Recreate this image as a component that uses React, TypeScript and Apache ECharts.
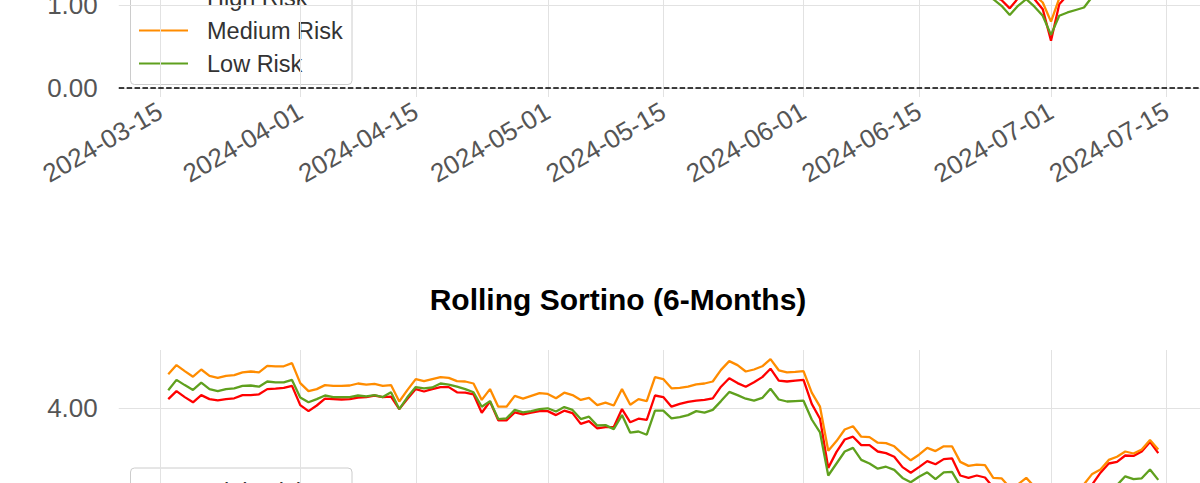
import React, { useEffect, useRef } from "react";
import * as echarts from "echarts";

// ---------- data ----------
const axisStart = "2024-03-10";
const axisEnd = "2024-07-20";

const seriesNames = ["High Risk", "Medium Risk", "Low Risk"];
const seriesColors = ["#ff0000", "#ff8c00", "#5fa01e"];

// Upper panel (only the part visible in the frame), daily from 2024-06-23
const upperStart = "2024-06-23";
const upperHigh = [1.15, 1.10, 1.06, 0.96, 1.08, 1.12, 1.07, 0.95, 0.57, 1.01, 1.12, 1.15, 1.18, 1.20];
const upperMedium = [1.20, 1.16, 1.12, 1.10, 1.15, 1.16, 1.12, 1.03, 0.80, 1.08, 1.15, 1.18, 1.20, 1.22];
const upperLow = [1.12, 1.07, 0.99, 0.88, 0.99, 1.07, 0.98, 0.87, 0.64, 0.87, 0.91, 0.94, 0.97, 1.10];

// Rolling Sortino (6-Months), daily from 2024-03-16
const sortinoStart = "2024-03-16";
const sortinoHigh = [
  4.23, 4.43, 4.28, 4.15, 4.33, 4.23, 4.20, 4.23, 4.25, 4.33, 4.33, 4.35, 4.48, 4.49, 4.51, 4.56, 4.08, 3.93, 4.07, 4.24,
  4.23, 4.22, 4.23, 4.27, 4.28, 4.32, 4.28, 4.29, 3.98, 4.24, 4.48, 4.42, 4.48, 4.53, 4.53,
  4.40, 4.39, 4.35, 3.89, 4.17, 3.70, 3.70, 3.90, 3.85, 3.89, 3.93, 3.93, 3.83, 3.94, 3.88, 3.61, 3.68, 3.50, 3.53, 3.53,
  3.98, 3.65, 3.74, 3.71, 4.32, 4.28, 4.04, 4.11, 4.16, 4.19, 4.21, 4.25, 4.54, 4.75, 4.63,
  4.54, 4.65, 4.78, 4.99, 4.69, 4.67, 4.69, 4.71, 4.11, 3.74, 2.51, 2.91, 3.22, 3.29, 3.08, 3.08, 2.92, 2.88, 2.79, 2.53,
  2.39, 2.53, 2.68, 2.60, 2.73, 2.75, 2.32, 2.26, 2.32, 2.27, 2.02, 1.97, 1.80, 1.84, 1.97, 1.80, 1.67, 1.59, 1.54, 1.63,
  1.72, 2.02, 2.10, 2.39, 2.62, 2.66, 2.82, 2.81, 2.92, 3.16, 2.88,
];
const sortinoMedium = [
  4.85, 5.08, 4.93, 4.79, 4.97, 4.81, 4.76, 4.81, 4.83, 4.90, 4.92, 4.90, 5.06, 5.05, 5.05, 5.13, 4.63, 4.43, 4.48, 4.58,
  4.56, 4.56, 4.57, 4.62, 4.59, 4.61, 4.56, 4.58, 4.17, 4.46, 4.73, 4.68, 4.73, 4.78, 4.76,
  4.68, 4.67, 4.62, 4.21, 4.48, 4.04, 4.04, 4.31, 4.24, 4.31, 4.38, 4.36, 4.25, 4.39, 4.33, 4.21, 4.26, 4.08, 4.14, 4.07,
  4.48, 4.09, 4.23, 4.18, 4.78, 4.73, 4.50, 4.51, 4.54, 4.60, 4.62, 4.67, 4.96, 5.18, 5.08,
  4.92, 4.97, 5.05, 5.23, 4.95, 4.90, 4.91, 4.93, 4.39, 4.04, 2.94, 3.18, 3.47, 3.55, 3.29, 3.28, 3.14, 3.13, 3.05, 2.86,
  2.70, 2.84, 3.01, 2.93, 3.05, 3.05, 2.66, 2.56, 2.59, 2.58, 2.26, 2.25, 2.02, 2.10, 2.26, 2.04, 1.89, 1.80, 1.76, 1.84,
  1.89, 2.10, 2.36, 2.47, 2.71, 2.79, 2.92, 2.87, 2.97, 3.21, 2.97,
];
const sortinoLow = [
  4.45, 4.71, 4.58, 4.46, 4.64, 4.48, 4.43, 4.48, 4.50, 4.56, 4.57, 4.54, 4.67, 4.65, 4.65, 4.71, 4.27, 4.15, 4.23, 4.32,
  4.28, 4.28, 4.28, 4.32, 4.30, 4.33, 4.28, 4.40, 3.98, 4.28, 4.53, 4.50, 4.52, 4.62, 4.59,
  4.54, 4.48, 4.40, 4.04, 4.18, 3.73, 3.75, 3.96, 3.90, 3.93, 3.98, 4.00, 3.92, 4.03, 3.96, 3.73, 3.79, 3.57, 3.58, 3.48,
  3.83, 3.39, 3.42, 3.34, 3.94, 3.94, 3.75, 3.78, 3.83, 3.93, 3.89, 3.96, 4.18, 4.41, 4.33,
  4.24, 4.19, 4.26, 4.49, 4.22, 4.17, 4.18, 4.19, 3.72, 3.40, 2.32, 2.62, 2.92, 3.01, 2.71, 2.62, 2.49, 2.54, 2.46, 2.26,
  2.15, 2.29, 2.40, 2.23, 2.40, 2.41, 2.06, 1.93, 1.96, 1.93, 1.67, 1.63, 1.46, 1.50, 1.63, 1.46, 1.33, 1.24, 1.20, 1.28,
  1.33, 1.54, 1.76, 1.84, 1.97, 2.08, 2.30, 2.23, 2.25, 2.47, 2.21,
];

const sortinoTitle = "Rolling Sortino (6-Months)";

// ---------- helpers ----------
function dayList(start: string, end: string): string[] {
  const out: string[] = [];
  let t = Date.parse(start + "T00:00:00Z");
  const e = Date.parse(end + "T00:00:00Z");
  while (t <= e) {
    out.push(new Date(t).toISOString().slice(0, 10));
    t += 86400000;
  }
  return out;
}

function alignTo(cats: string[], start: string, values: number[]) {
  const i0 = cats.indexOf(start);
  return cats.map((_, i) => {
    const k = i - i0;
    return k >= 0 && k < values.length ? values[k] : null;
  });
}

const categories = dayList(axisStart, axisEnd);
const isTickDay = (_i: number, v: string) => v.endsWith("-01") || v.endsWith("-15");

// ---------- layout ----------
const OY = 200; // hidden part above the frame
const W = 1260;
const H = 483 + OY + 200;
const FONT = "'Liberation Sans', Arial, Helvetica, sans-serif";
const GRID_LEFT = 118.75;
const GRID_RIGHT = W - 1207.75;
const TICK_FS = 26;

const upperMin = -9 / 83;
const upperMax = 2.1;
const lowerMin = 0;
const lowerMax = 4 + 58.3 / 40;
const lowerInterval = 4;

function legendGroup(x: number, y: number) {
  const children: any[] = [
    {
      type: "rect",
      shape: { x: 0, y: 0, width: 221.5, height: 110, r: 4 },
      style: { fill: "rgba(255,255,255,0.8)", stroke: "#cccccc", lineWidth: 1 },
    },
  ];
  seriesNames.forEach((n, i) => {
    const cy = 23 + i * 33;
    children.push({
      type: "line",
      shape: { x1: 8.5, y1: cy, x2: 57.5, y2: cy },
      style: { stroke: seriesColors[i], lineWidth: 2.2 },
    });
    children.push({
      type: "text",
      x: 76.5,
      y: cy + 0.5,
      style: {
        text: n,
        fill: "#333333",
        fontSize: 23.5,
        fontFamily: FONT,
        align: "left",
        verticalAlign: "middle",
      },
    });
  });
  return { type: "group", x, y, z: 100, children };
}

function xAxisFor(gridIndex: number) {
  return {
    type: "category",
    gridIndex,
    data: categories,
    boundaryGap: false,
    axisLine: { show: false },
    axisTick: { show: false },
    axisLabel: {
      interval: isTickDay,
      rotate: 30,
      margin: 12,
      color: "#555555",
      fontSize: TICK_FS,
      fontFamily: FONT,
    },
    splitLine: { show: true, interval: isTickDay, lineStyle: { color: "#e2e2e2", width: 1 } },
  };
}

function yAxisCommon() {
  return {
    type: "value",
    axisLine: { show: false },
    axisTick: { show: false },
    axisLabel: {
      margin: 21,
      color: "#555555",
      fontSize: TICK_FS,
      fontFamily: FONT,
      showMinLabel: false,
      showMaxLabel: false,
      formatter: (v: number) => v.toFixed(2),
    },
    splitLine: {
      show: true,
      showMinLine: false,
      showMaxLine: false,
      lineStyle: { color: "#e2e2e2", width: 1 },
    },
  };
}

function lineSeries(name: string, color: string, data: (number | null)[], idx: number, extra: any = {}) {
  return {
    type: "line",
    name,
    xAxisIndex: idx,
    yAxisIndex: idx,
    data,
    showSymbol: false,
    symbol: "none",
    lineStyle: { color, width: 2.3 },
    itemStyle: { color },
    ...extra,
  };
}

export default function App() {
  const ref = useRef<HTMLDivElement>(null);
  useEffect(() => {
    const chart = echarts.init(ref.current!, null, { renderer: "svg" });
    const upper = [upperHigh, upperMedium, upperLow];
    const lower = [sortinoHigh, sortinoMedium, sortinoLow];
    const option: any = {
      animation: false,
      backgroundColor: "#ffffff",
      title: {
        text: sortinoTitle,
        left: 618,
        top: OY + 284,
        padding: 0,
        textAlign: "center",
        textStyle: { fontSize: 30, fontWeight: "bold", color: "#000000", fontFamily: FONT },
      },
      grid: [
        {
          left: GRID_LEFT,
          right: GRID_RIGHT,
          top: OY + 88 - upperMax * 83,
          height: (upperMax - upperMin) * 83,
        },
        {
          left: GRID_LEFT,
          right: GRID_RIGHT,
          top: OY + 350,
          height: (lowerMax - lowerMin) * 40,
        },
      ],
      xAxis: [xAxisFor(0), xAxisFor(1)],
      yAxis: [
        { ...yAxisCommon(), gridIndex: 0, min: upperMin, max: upperMax, splitNumber: 2 },
        { ...yAxisCommon(), gridIndex: 1, min: lowerMin, max: lowerMax, interval: lowerInterval },
      ],
      series: [
        ...upper.map((vals, i) =>
          lineSeries(
            seriesNames[i],
            seriesColors[i],
            alignTo(categories, upperStart, vals),
            0,
            i === 0
              ? {
                  markLine: {
                    silent: true,
                    symbol: ["none", "none"],
                    label: { show: false },
                    lineStyle: { color: "#000000", type: [5.5, 2.4], width: 1.6 },
                    data: [{ yAxis: 0 }],
                    z: 1,
                  },
                }
              : {}
          )
        ),
        ...lower.map((vals, i) =>
          lineSeries(seriesNames[i], seriesColors[i], alignTo(categories, sortinoStart, vals), 1)
        ),
      ],
      graphic: [legendGroup(130.5, OY - 25.5), legendGroup(130.5, OY + 468)],
    };
    chart.setOption(option);
    return () => chart.dispose();
  }, []);
  return (
    <div
      ref={ref}
      style={{ position: "fixed", left: 0, top: -OY, width: W, height: H }}
    />
  );
}
